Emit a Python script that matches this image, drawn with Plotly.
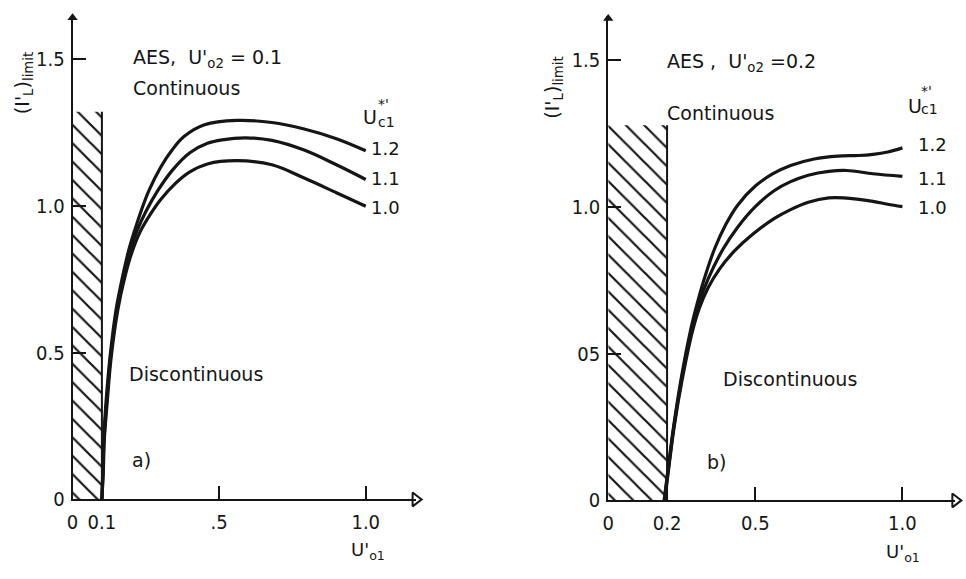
import plotly.graph_objects as go

# ---------------- data ----------------
# panel a) U'o2 = 0.1
a_x_12 = [0.100, 0.103, 0.106, 0.114, 0.127, 0.148, 0.170, 0.192, 0.210, 0.235, 0.260, 0.30, 0.34, 0.38, 0.45, 0.56, 0.68, 0.79, 0.90, 1.00]
a_y_12 = [0.000, 0.100, 0.200, 0.330, 0.478, 0.644, 0.756, 0.850, 0.910, 0.985, 1.050, 1.130, 1.190, 1.235, 1.275, 1.290, 1.283, 1.261, 1.228, 1.187]
a_x_11 = [0.100, 0.104, 0.107, 0.116, 0.129, 0.151, 0.174, 0.197, 0.220, 0.250, 0.290, 0.34, 0.40, 0.46, 0.51, 0.59, 0.68, 0.79, 0.90, 1.00]
a_y_11 = [0.000, 0.100, 0.200, 0.330, 0.478, 0.644, 0.756, 0.850, 0.915, 0.980, 1.050, 1.120, 1.180, 1.212, 1.224, 1.231, 1.222, 1.189, 1.139, 1.089]
a_x_10 = [0.100, 0.105, 0.108, 0.118, 0.131, 0.154, 0.178, 0.202, 0.230, 0.265, 0.30, 0.35, 0.40, 0.46, 0.56, 0.68, 0.79, 0.90, 1.00]
a_y_10 = [0.000, 0.100, 0.200, 0.330, 0.478, 0.644, 0.756, 0.840, 0.910, 0.970, 1.020, 1.075, 1.115, 1.142, 1.153, 1.139, 1.094, 1.044, 0.998]

# panel b) U'o2 = 0.2
b_x_12 = [0.190, 0.205, 0.222, 0.248, 0.280, 0.305, 0.333, 0.363, 0.40, 0.44, 0.50, 0.56, 0.62, 0.70, 0.78, 0.85, 0.90, 0.95, 1.00]
b_y_12 = [0.000, 0.120, 0.250, 0.415, 0.580, 0.680, 0.775, 0.860, 0.940, 1.005, 1.070, 1.112, 1.140, 1.162, 1.172, 1.174, 1.178, 1.186, 1.200]
b_x_11 = [0.191, 0.206, 0.223, 0.250, 0.283, 0.308, 0.340, 0.390, 0.44, 0.50, 0.565, 0.62, 0.68, 0.75, 0.81, 0.90, 1.00]
b_y_11 = [0.000, 0.120, 0.250, 0.415, 0.580, 0.670, 0.755, 0.855, 0.930, 1.000, 1.055, 1.085, 1.107, 1.120, 1.123, 1.112, 1.103]
b_x_10 = [0.192, 0.207, 0.224, 0.252, 0.286, 0.310, 0.340, 0.380, 0.430, 0.490, 0.565, 0.62, 0.68, 0.75, 0.80, 0.90, 0.95, 1.00]
b_y_10 = [0.000, 0.120, 0.250, 0.415, 0.575, 0.655, 0.725, 0.790, 0.850, 0.905, 0.960, 0.990, 1.015, 1.030, 1.030, 1.018, 1.008, 1.000]

curve_labels = ["1.2", "1.1", "1.0"]
a_label_y = [1.193, 1.093, 0.993]
b_label_y = [1.213, 1.097, 0.997]

# hatched "forbidden" regions
a_hatch_x = [0.0, 0.1]
a_hatch_top = 1.32
b_hatch_x = [0.0, 0.2]
b_hatch_top = 1.277

a_xtick_vals = [0, 0.1, 0.5, 1.0]
a_xtick_text = ["0", "0.1", ".5", "1.0"]
b_xtick_vals = [0, 0.2, 0.5, 1.0]
b_xtick_text = ["0", "0.2", "0.5", "1.0"]
ytick_vals = [0, 0.5, 1.0, 1.5]
a_ytick_text = ["0", "0.5", "1.0", "1.5"]
b_ytick_text = ["0", "05", "1.0", "1.5"]

X_MAX_A = 1.17
X_MAX_B = 1.18
Y_MAX = 1.65

INK = "#151515"
FONT = "DejaVu Sans"
NUM_FONT = "Liberation Sans Narrow, DejaVu Sans Condensed, DejaVu Sans"

W, H = 966, 579

fig = go.Figure()


def add_panel(xr, yr, curves, hx, htop, xmax):
    fig.add_trace(go.Scatter(
        x=[hx[0], hx[1], hx[1], hx[0], hx[0]], y=[0, 0, htop, htop, 0],
        mode="lines", fill="toself", line=dict(width=0, color="rgba(0,0,0,0)"),
        fillcolor="white",
        fillpattern=dict(shape="\\", size=13, solidity=0.17, fgcolor=INK, bgcolor="white", fillmode="replace"),
        xaxis=xr, yaxis=yr, hoverinfo="skip", showlegend=False))
    fig.add_trace(go.Scatter(x=[hx[1], hx[1]], y=[0, htop], mode="lines",
                             line=dict(color=INK, width=2), xaxis=xr, yaxis=yr,
                             hoverinfo="skip", showlegend=False))
    for cx, cy in curves:
        fig.add_trace(go.Scatter(x=cx, y=cy, mode="lines",
                                 line=dict(color=INK, width=3.2, shape="spline", smoothing=1.0),
                                 xaxis=xr, yaxis=yr, showlegend=False))
    fig.add_trace(go.Scatter(x=[0], y=[Y_MAX - 0.01], mode="markers",
                             marker=dict(symbol="triangle-up", size=9, color=INK),
                             xaxis=xr, yaxis=yr, cliponaxis=False, hoverinfo="skip", showlegend=False))
    fig.add_trace(go.Scatter(x=[xmax], y=[0], mode="markers",
                             marker=dict(symbol="triangle-right-open", size=12, color=INK, line=dict(width=2, color=INK)),
                             xaxis=xr, yaxis=yr, cliponaxis=False, hoverinfo="skip", showlegend=False))


add_panel("x", "y", [(a_x_12, a_y_12), (a_x_11, a_y_11), (a_x_10, a_y_10)], a_hatch_x, a_hatch_top, X_MAX_A)
add_panel("x2", "y2", [(b_x_12, b_y_12), (b_x_11, b_y_11), (b_x_10, b_y_10)], b_hatch_x, b_hatch_top, X_MAX_B)


def xaxis(px0, ppu, xmax, vals, text, anchor):
    return dict(domain=[px0 / W, (px0 + ppu * xmax) / W], range=[0, xmax], anchor=anchor,
                showline=True, linewidth=2, linecolor=INK, ticks="inside", ticklen=13,
                tickwidth=1.5, tickcolor=INK, tickvals=vals, ticktext=text,
                showgrid=False, zeroline=False, tickfont=dict(family=NUM_FONT, size=20, color=INK),
                ticklabelstandoff=4, fixedrange=True)


def yaxis(py0, ppu, text, anchor):
    return dict(domain=[(H - py0) / H, (H - (py0 - ppu * Y_MAX)) / H], range=[0, Y_MAX], anchor=anchor,
                showline=True, linewidth=2, linecolor=INK, ticks="inside", ticklen=13,
                tickwidth=1.5, tickcolor=INK, tickvals=ytick_vals, ticktext=text,
                showgrid=False, zeroline=False, tickfont=dict(family=NUM_FONT, size=20, color=INK),
                ticklabelstandoff=2, fixedrange=True)


ann = []


def txt(xr, yr, x, y, s, size=19, xanchor="left", textangle=0, family=FONT):
    ann.append(dict(x=x, y=y, xref=xr, yref=yr, text=s, showarrow=False, xanchor=xanchor,
                    yanchor="middle", textangle=textangle,
                    font=dict(family=family, size=size, color=INK)))


# panel a texts
txt("x", "y", 0.20, 1.50, "AES,  U'<sub>o2</sub> = 0.1")
txt("x", "y", 0.20, 1.40, "Continuous")
txt("x", "y", 0.985, 1.303, "U", size=19)
txt("x", "y", 1.035, 1.345, "*'", size=14)
txt("x", "y", 1.035, 1.285, "c1", size=14)
for lab, ly in zip(curve_labels, a_label_y):
    txt("x", "y", 1.012, ly, lab, size=18)
txt("x", "y", 0.186, 0.427, "Discontinuous")
txt("x", "y", 0.197, 0.133, "a)")
txt("paper", "paper", 364 / W, (H - 563) / H, "U'<sub>o1</sub>", size=18, xanchor="center")
txt("paper", "paper", 17 / W, (H - 85) / H, "(I'<sub>L</sub>)<sub>limit</sub>", size=19, xanchor="center", textangle=-90)

# panel b texts
txt("x2", "y2", 0.193, 1.49, "AES ,  U'<sub>o2</sub> =0.2")
txt("x2", "y2", 0.193, 1.32, "Continuous")
txt("x2", "y2", 1.012, 1.343, "U", size=19)
txt("x2", "y2", 1.056, 1.392, "*'", size=14)
txt("x2", "y2", 1.056, 1.332, "c1", size=14)
for lab, ly in zip(curve_labels, b_label_y):
    txt("x2", "y2", 1.045, ly, lab, size=18)
txt("x2", "y2", 0.385, 0.413, "Discontinuous")
txt("x2", "y2", 0.328, 0.13, "b)")
txt("paper", "paper", 903 / W, (H - 565) / H, "U'<sub>o1</sub>", size=18, xanchor="center")
txt("paper", "paper", 551 / W, (H - 90) / H, "(I'<sub>L</sub>)<sub>limit</sub>", size=19, xanchor="center", textangle=-90)

fig.update_layout(
    width=W, height=H, margin=dict(l=0, r=0, t=0, b=0),
    paper_bgcolor="white", plot_bgcolor="rgba(0,0,0,0)",
    xaxis=xaxis(67, 295, X_MAX_A, a_xtick_vals, a_xtick_text, "y"),
    yaxis=yaxis(510, 300, a_ytick_text, "x"),
    xaxis2=xaxis(606, 296, X_MAX_B, b_xtick_vals, b_xtick_text, "y2"),
    yaxis2=yaxis(511, 300, b_ytick_text, "x2"),
    annotations=ann, showlegend=False,
)

fig.write_html("out.html", config={"displayModeBar": False})
